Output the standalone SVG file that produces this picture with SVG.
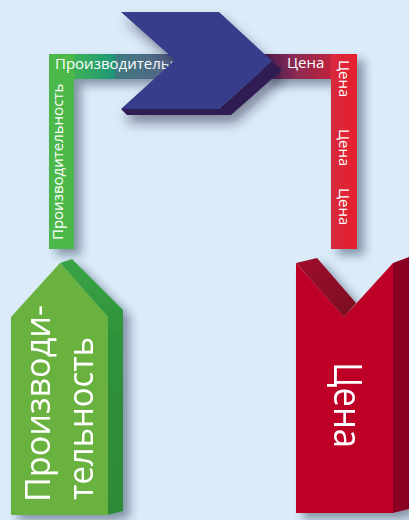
<svg xmlns="http://www.w3.org/2000/svg" width="409" height="520" viewBox="0 0 409 520">
<defs>
<filter id="sh" x="-30%" y="-30%" width="160%" height="160%">
<feDropShadow dx="7" dy="6" stdDeviation="5" flood-color="#1c2b45" flood-opacity="0.45"/>
</filter>
<filter id="sh2" x="-30%" y="-30%" width="160%" height="160%">
<feDropShadow dx="4" dy="8" stdDeviation="6" flood-color="#1c2040" flood-opacity="0.5"/>
</filter>
<linearGradient id="gl" x1="49" y1="0" x2="180" y2="0" gradientUnits="userSpaceOnUse">
<stop offset="0" stop-color="#4cb848"/>
<stop offset="0.25" stop-color="#37ad5c"/>
<stop offset="0.5" stop-color="#1f9678"/>
<stop offset="0.505" stop-color="#3f7a80"/>
<stop offset="1" stop-color="#5a5f8a"/>
</linearGradient>
<linearGradient id="gr" x1="262" y1="0" x2="357" y2="0" gradientUnits="userSpaceOnUse">
<stop offset="0" stop-color="#4a1d50"/>
<stop offset="0.35" stop-color="#8a2a52"/>
<stop offset="1" stop-color="#e5202e"/>
</linearGradient>
<linearGradient id="gside" x1="0" y1="259" x2="0" y2="515" gradientUnits="userSpaceOnUse">
<stop offset="0" stop-color="#3aa446"/>
<stop offset="0.3" stop-color="#2f923a"/>
<stop offset="1" stop-color="#2d8a38"/>
</linearGradient>
<linearGradient id="gflap" x1="296" y1="258" x2="356" y2="317" gradientUnits="userSpaceOnUse">
<stop offset="0" stop-color="#a0102c"/>
<stop offset="1" stop-color="#7a0620"/>
</linearGradient>
<linearGradient id="gredv" x1="331" y1="0" x2="357" y2="0" gradientUnits="userSpaceOnUse">
<stop offset="0" stop-color="#d72a3c"/>
<stop offset="1" stop-color="#e61f2c"/>
</linearGradient>
</defs>
<style>
.t{font-family:"Open Sans","Noto Sans","DejaVu Sans",sans-serif;fill:#ffffff}
.s{font-size:15px}
</style>
<rect width="409" height="520" fill="#dbebf8"/>
<g id="connectors">
<g id="conn-left" filter="url(#sh)">
<rect x="49" y="54" width="131" height="25" fill="url(#gl)"/>
<rect x="49" y="54" width="25" height="195" fill="#4cb848"/>
</g>
<text class="t s" x="55" y="69">Производительность</text>
<text class="t s" transform="translate(63,240) rotate(-90)">Производительность</text>
<g id="conn-right" filter="url(#sh)">
<rect x="262" y="54" width="95" height="25" fill="url(#gr)"/>
<rect x="331" y="54" width="26" height="195" fill="url(#gredv)"/>
</g>
<text class="t s" x="287" y="68">Цена</text>
<text class="t s" transform="translate(339,60) rotate(90)">Цена</text>
<text class="t s" transform="translate(339,129) rotate(90)">Цена</text>
<text class="t s" transform="translate(339,188) rotate(90)">Цена</text>
</g>
<g id="arrow" filter="url(#sh2)">
<polygon points="272,61 282,70 231,115 127,115 121,109 219,109" fill="#2d1d52"/>
<polygon points="121,12 219,12 272,61 219,109 121,109 175,60" fill="#373c8b"/>
</g>
<g id="node-productivity" filter="url(#sh)">
<polygon points="60,263 72,259 123,310 123,511 108,515 108,317" fill="url(#gside)"/>
<polygon points="60,263 108,317 108,515 11,515 11,317" fill="#6ab23f"/>
<text class="t" font-size="34" textLength="197" lengthAdjust="spacingAndGlyphs" transform="translate(50,502) rotate(-90)">Производи-</text>
<text class="t" font-size="34" textLength="163" lengthAdjust="spacingAndGlyphs" transform="translate(93,500) rotate(-90)">тельность</text>
</g>
<g id="node-price" filter="url(#sh)">
<polygon points="393,263 409,257 409,509 393,513" fill="#8a0620"/>
<polygon points="296,263 317,258 356,303 344,317" fill="url(#gflap)"/>
<polygon points="296,263 344,317 393,263 393,513 296,513" fill="#bf0027"/>
<text class="t" font-size="38" textLength="86" lengthAdjust="spacingAndGlyphs" transform="translate(334,362) rotate(90)">Цена</text>
</g>
</svg>
